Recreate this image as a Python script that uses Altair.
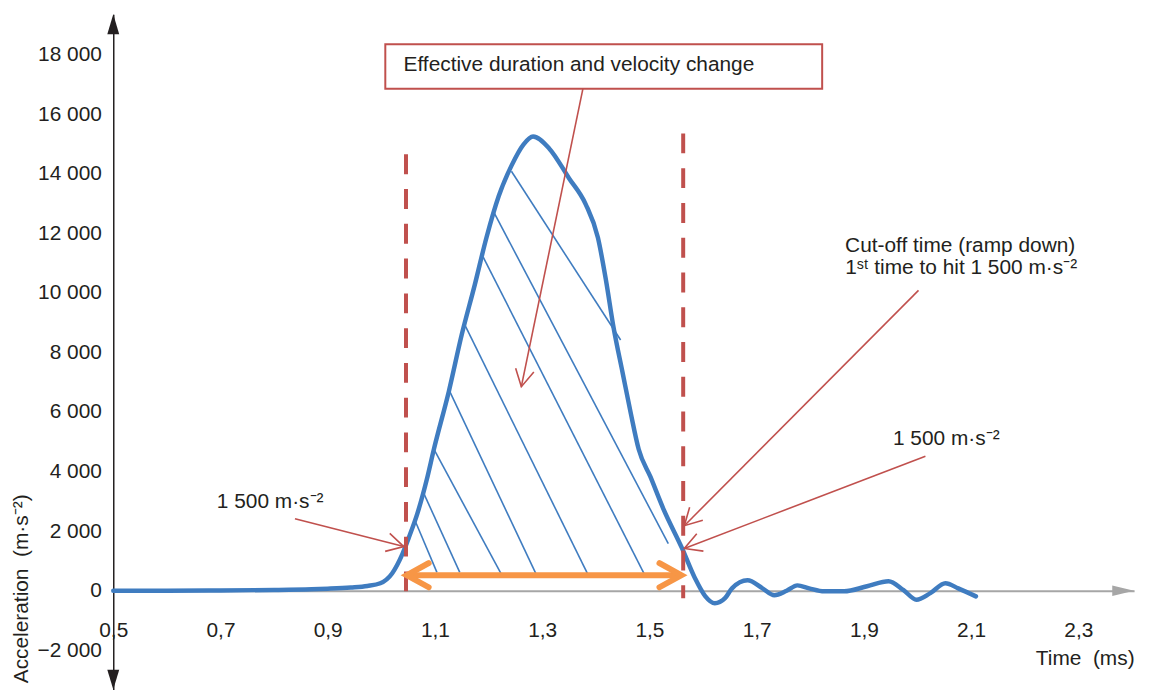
import math
import altair as alt
import pandas as pd

# ---------------- data ----------------
CURVE_T = [0.50, 0.60, 0.70, 0.80, 0.87, 0.90, 0.943, 0.974, 0.998, 1.020, 1.039, 1.052,
           1.067, 1.085, 1.098, 1.126, 1.150, 1.174, 1.196, 1.219, 1.243, 1.265, 1.283,
           1.313, 1.350, 1.381, 1.404, 1.419, 1.433, 1.450, 1.465, 1.480, 1.502, 1.526,
           1.561, 1.585, 1.604, 1.622, 1.641, 1.654, 1.683, 1.711, 1.733, 1.756, 1.776,
           1.798, 1.826, 1.863, 1.906, 1.946, 1.974, 1.998, 2.024, 2.052, 2.076, 2.109]
CURVE_A = [0, 0, 10, 25, 50, 70, 110, 160, 250, 580, 1220, 1820,
           2580, 3750, 4750, 6700, 8600, 10250, 11850, 13250, 14280, 14980, 15250,
           14850, 13850, 12980, 11850, 10420, 8850, 7320, 5980, 4750, 3820, 2750,
           1420, 420, -180, -420, -250, 80, 350, 80, -150, 0, 180,
           80, -20, -20, 150, 320, 20, -300, -80, 250, 80, -190]

X_TICKS = [0.5, 0.7, 0.9, 1.1, 1.3, 1.5, 1.7, 1.9, 2.1, 2.3]
Y_TICKS = [-2000, 0, 2000, 4000, 6000, 8000, 10000, 12000, 14000, 16000, 18000]

# effective-duration limits (dashed red lines)
LIMIT_T = [1.046, 1.563]
LIMIT_TOP = [14650, 15350]
LIMIT_BOTTOM = [-250, -250]

# hatching segments
HATCH_T1 = [1.2426, 1.21, 1.19, 1.155, 1.126, 1.098, 1.0796, 1.063]
HATCH_A1 = [14083, 12700, 11200, 8950, 6750, 4750, 3250, 2350]
HATCH_T2 = [1.4463, 1.5352, 1.4926, 1.3852, 1.2889, 1.224, 1.1463, 1.1037]
HATCH_A2 = [8417, 1583, 483, 550, 550, 550, 617, 617]

# orange double arrow (effective duration)
SPAN_T = [1.0475, 1.5595]
SPAN_A = [520, 520]

# red annotation arrows: start -> tip
ARROW_T1 = [0.8389, 1.3759, 2.0019, 2.0148]
ARROW_A1 = [2417, 16850, 10083, 4517]
ARROW_T2 = [1.0419, 1.2611, 1.5651, 1.5651]
ARROW_A2 = [1483, 6850, 2183, 1417]

# label box
BOX_T = [1.0074, 1.8222]
BOX_A = [16850, 18350]

LABEL_TEXT = ["Effective duration and velocity change",
              "1 500 m·s⁻²",
              "Cut-off time (ramp down)",
              "1ˢᵗ time to hit 1 500 m·s⁻²",
              "1 500 m·s⁻²"]
LABEL_T = [1.3685, 0.7926, 2.0796, 2.0815, 2.0537]
LABEL_A = [17650, 2983, 11583, 10817, 5083]

X_DOMAIN = [0.5, 2.404]
Y_DOMAIN = [-3320, 19350]
W, H = 1028, 680

BLUE = "#3f7cc0"
RED = "#c0504d"
ORANGE = "#f79646"
DARK = "#231f20"
GREY = "#a6a6a6"
FONT = "Liberation Sans"
FS = 21

# ---------------- helpers ----------------
sx = W / (X_DOMAIN[1] - X_DOMAIN[0])
sy = H / (Y_DOMAIN[1] - Y_DOMAIN[0])


def screen_angle(t1, a1, t2, a2):
    dx = (t2 - t1) * sx
    dy = -(a2 - a1) * sy
    return math.degrees(math.atan2(dy, dx)) % 360


xs = alt.Scale(domain=X_DOMAIN, nice=False, zero=False)
ys = alt.Scale(domain=Y_DOMAIN, nice=False, zero=False)

zero_from_bottom = (0 - Y_DOMAIN[0]) * sy

x_axis = alt.Axis(values=X_TICKS, labelExpr="replace(format(datum.value, '.1f'), '.', ',')",
                  ticks=False, grid=False, domainColor=GREY, domainWidth=2,
                  offset=-zero_from_bottom, labelFont=FONT, labelFontSize=FS,
                  labelColor=DARK, labelPadding=29, labelFlush=False, labelOverlap=False,
                  title="Time\u00a0 (ms)", titleFont=FONT, titleFontSize=FS,
                  titleFontWeight="normal", titleColor=DARK, titleX=W, titleY=68,
                  titleAlign="right", titleBaseline="middle")

y_axis = alt.Axis(values=Y_TICKS, labelExpr="replace(format(datum.value, ','), ',', ' ')",
                  ticks=False, grid=False, domainColor=DARK, domainWidth=1.5,
                  labelFont=FONT, labelFontSize=FS, labelColor=DARK, labelPadding=12,
                  labelFlush=False, labelOverlap=False,
                  title="Acceleration\u00a0 (m·s⁻²)", titleFont=FONT, titleFontSize=FS,
                  titleFontWeight="normal", titleColor=DARK, titleAngle=270,
                  titleX=-92, titleY=578, titleAlign="center", titleBaseline="middle")


def X(f):
    return alt.X(f, type="quantitative", scale=xs, axis=x_axis)


def Y(f):
    return alt.Y(f, type="quantitative", scale=ys, axis=y_axis)


# ---------------- tables ----------------
curve_df = pd.DataFrame({"t": CURVE_T, "a": CURVE_A})
limit_df = pd.DataFrame({"t": LIMIT_T, "top": LIMIT_TOP, "bottom": LIMIT_BOTTOM})
hatch_df = pd.DataFrame({"t1": HATCH_T1, "a1": HATCH_A1, "t2": HATCH_T2, "a2": HATCH_A2})
span_df = pd.DataFrame({"t1": [SPAN_T[0] + 0.003], "t2": [SPAN_T[1] - 0.003], "a": [SPAN_A[0]]})
span_heads = pd.DataFrame({"t": SPAN_T, "a": SPAN_A, "ang": [180, 0]})
arrow_df = pd.DataFrame({"t1": ARROW_T1, "a1": ARROW_A1, "t2": ARROW_T2, "a2": ARROW_A2})
arrow_heads = pd.DataFrame({
    "t": ARROW_T2, "a": ARROW_A2,
    "ang": [screen_angle(a, b, c, d) for a, b, c, d in zip(ARROW_T1, ARROW_A1, ARROW_T2, ARROW_A2)],
})
box_df = pd.DataFrame({"t1": [BOX_T[0]], "t2": [BOX_T[1]], "a1": [BOX_A[0]], "a2": [BOX_A[1]]})
label_df = pd.DataFrame({"text": LABEL_TEXT, "t": LABEL_T, "a": LABEL_A})
yhead_df = pd.DataFrame({"t": [X_DOMAIN[0], X_DOMAIN[0]], "a": [Y_DOMAIN[1], Y_DOMAIN[0]],
                         "ang": [0, 180]})
xhead_df = pd.DataFrame({"t": [X_DOMAIN[1]], "a": [0]})

OPEN_HEAD = "M -1 -0.55 L 0 0 L -1 0.55"
UP_HEAD = "M 0 0 L 0.3 1 L -0.3 1 Z"
RIGHT_HEAD = "M 0 0 L -1 -0.24 L -1 0.24 Z"

# ---------------- layers ----------------
hatch = alt.Chart(hatch_df).mark_rule(color=BLUE, strokeWidth=1.6).encode(
    x=X("t1"), y=Y("a1"), x2="t2", y2="a2")

curve = alt.Chart(curve_df).mark_line(color=BLUE, strokeWidth=4.5, interpolate="monotone",
                                      strokeCap="round", strokeJoin="round").encode(
    x=X("t"), y=Y("a"))

limits = alt.Chart(limit_df).mark_rule(color=RED, strokeWidth=4, strokeDash=[20, 15]).encode(
    x=X("t"), y=Y("top"), y2="bottom")

span = alt.Chart(span_df).mark_rule(color=ORANGE, strokeWidth=6).encode(
    x=X("t1"), x2="t2", y=Y("a"))

span_h = alt.Chart(span_heads).mark_point(shape=OPEN_HEAD, filled=False, stroke=ORANGE,
                                          strokeWidth=6, size=1936, opacity=1,
                                          strokeCap="round", strokeJoin="miter").encode(
    x=X("t"), y=Y("a"), angle=alt.Angle("ang:Q", scale=None))

box = alt.Chart(box_df).mark_rect(fill="white", stroke=RED, strokeWidth=2).encode(
    x=X("t1"), x2="t2", y=Y("a1"), y2="a2")

arrows = alt.Chart(arrow_df).mark_rule(color=RED, strokeWidth=1.6).encode(
    x=X("t1"), y=Y("a1"), x2="t2", y2="a2")

arrow_h = alt.Chart(arrow_heads).mark_point(shape=OPEN_HEAD, filled=False, stroke=RED,
                                            strokeWidth=1.6, size=1156, opacity=1).encode(
    x=X("t"), y=Y("a"), angle=alt.Angle("ang:Q", scale=None))

labels = alt.Chart(label_df).mark_text(font=FONT, fontSize=FS, color=DARK, align="center",
                                       baseline="middle").encode(
    x=X("t"), y=Y("a"), text="text:N")

y_heads = alt.Chart(yhead_df).mark_point(shape=UP_HEAD, filled=True, fill=DARK,
                                         size=1600, opacity=1).encode(
    x=X("t"), y=Y("a"), angle=alt.Angle("ang:Q", scale=None))

x_head = alt.Chart(xhead_df).mark_point(shape=RIGHT_HEAD, filled=True, fill=GREY, size=1936,
                                        opacity=1).encode(x=X("t"), y=Y("a"))

chart = alt.layer(
    curve, hatch, limits, span, span_h, box, arrows, arrow_h, labels, y_heads, x_head
).properties(
    width=W, height=H,
    autosize=alt.AutoSizeParams(type="none"),
    padding={"left": 106, "top": 4, "right": 14, "bottom": 1},
    background="white",
).configure_view(stroke=None)

chart.save("out.html", embed_options={"renderer": "svg", "actions": False})
